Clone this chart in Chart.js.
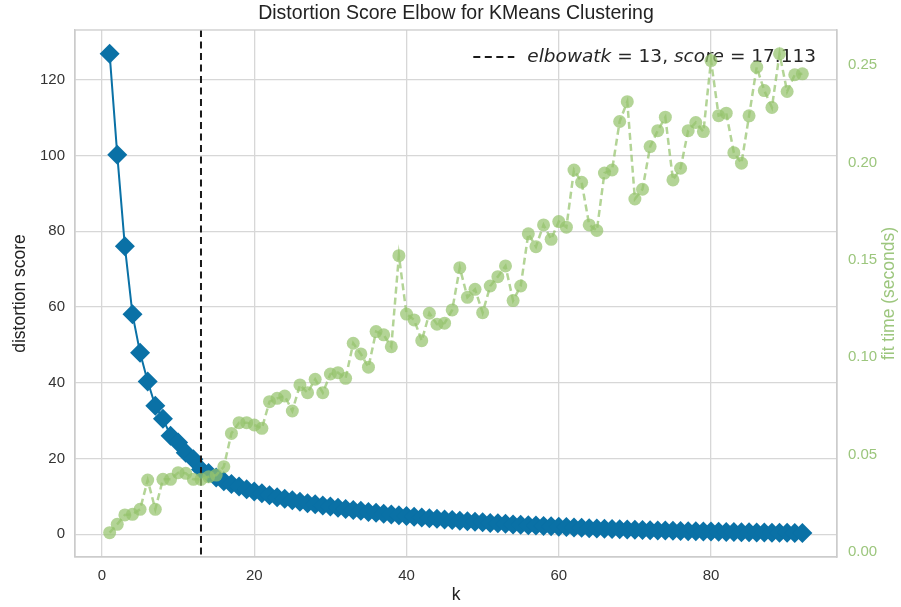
<!DOCTYPE html>
<html lang="en">
<head>
<meta charset="UTF-8">
<title>Distortion Score Elbow for KMeans Clustering</title>
<script src="https://cdn.jsdelivr.net/npm/chart.js"></script>
<style>
  html, body { margin: 0; padding: 0; background: #fff; }
</style>
</head>
<body>
<canvas id="elbowChart" width="901" height="607"></canvas>
<script>
// number of clusters tried
const kValues = [
  1, 2, 3, 4, 5, 6, 7, 8, 9, 10, 11, 12, 13, 14, 15, 16, 17, 18, 19, 20,
  21, 22, 23, 24, 25, 26, 27, 28, 29, 30, 31, 32, 33, 34, 35, 36, 37, 38, 39, 40,
  41, 42, 43, 44, 45, 46, 47, 48, 49, 50, 51, 52, 53, 54, 55, 56, 57, 58, 59, 60,
  61, 62, 63, 64, 65, 66, 67, 68, 69, 70, 71, 72, 73, 74, 75, 76, 77, 78, 79, 80,
  81, 82, 83, 84, 85, 86, 87, 88, 89, 90, 91, 92
];

// sum of squared distances for each k
const distortion = [
  126.8, 100.2, 76.0, 58.1, 47.9, 40.3, 33.9, 30.5, 26.0, 24.2,
  21.5, 19.8, 17.113, 16.2, 15.0, 14.0, 13.3, 12.6, 11.9, 11.3,
  10.8, 10.3, 9.8, 9.4, 9.0, 8.6, 8.2, 7.9, 7.6, 7.3,
  7.0, 6.7, 6.4, 6.2, 5.9, 5.7, 5.4, 5.2, 5.0, 4.8,
  4.6, 4.4, 4.25, 4.1, 3.9, 3.75, 3.6, 3.45, 3.3, 3.15,
  3.0, 2.9, 2.75, 2.6, 2.5, 2.4, 2.3, 2.2, 2.1, 2.0,
  1.9, 1.8, 1.7, 1.62, 1.55, 1.48, 1.4, 1.33, 1.27, 1.2,
  1.14, 1.08, 1.02, 0.97, 0.92, 0.87, 0.82, 0.78, 0.74, 0.7,
  0.66, 0.62, 0.58, 0.55, 0.52, 0.49, 0.46, 0.43, 0.4, 0.37,
  0.34, 0.31
];

// seconds spent fitting each model
const fitTime = [
  0.0098, 0.0141, 0.0189, 0.0192, 0.0218, 0.0368, 0.0218, 0.0372, 0.0372, 0.0406,
  0.0403, 0.0372, 0.0372, 0.0385, 0.0394, 0.0437, 0.0608, 0.0663, 0.0663, 0.0651,
  0.0634, 0.0771, 0.0788, 0.0800, 0.0723, 0.0857, 0.0817, 0.0886, 0.0817, 0.0913,
  0.0920, 0.0891, 0.1071, 0.1016, 0.0948, 0.1131, 0.1114, 0.1053, 0.1521, 0.1221,
  0.1191, 0.1084, 0.1225, 0.1169, 0.1174, 0.1242, 0.1459, 0.1307, 0.1348, 0.1228,
  0.1365, 0.1413, 0.1468, 0.1290, 0.1365, 0.1633, 0.1567, 0.1679, 0.1605, 0.1696,
  0.1667, 0.1961, 0.1898, 0.1679, 0.1650, 0.1945, 0.1961, 0.2210, 0.2312, 0.1812,
  0.1862, 0.2081, 0.2163, 0.2232, 0.1910, 0.1970, 0.2163, 0.2205, 0.2158, 0.2523,
  0.2240, 0.2253, 0.2050, 0.1996, 0.2239, 0.2489, 0.2369, 0.2282, 0.2558, 0.2364,
  0.2450, 0.2455
];

const elbowK = 13;
const elbowScore = 17.113;

const xTicks = [0, 20, 40, 60, 80];
const distortionTicks = [0, 20, 40, 60, 80, 100, 120];
const fitTimeTicks = [0, 0.05, 0.10, 0.15, 0.20, 0.25];

const BLUE = '#0a71a6';
const GREEN = 'rgba(150, 196, 110, 0.72)';
const GREEN_TEXT = '#9cc67d';
const GRID = '#d7d7d7';
const SANS = '"Liberation Sans", Arial, sans-serif';
const TICK_FONT = { family: SANS, size: 15 };
const LABEL_FONT = { family: SANS, size: 17.5 };

const fixedTicks = values => scale => {
  scale.ticks = values.map(v => ({ value: v }));
};

// dashed elbow marker, legend, title and the frame around the plot
const elbowPlugin = {
  id: 'elbowMarker',
  beforeDatasetDraw(chart, args) {
    if (args.index !== 1) return;
    const { ctx, chartArea: area, scales: { x } } = chart;
    const px = x.getPixelForValue(elbowK);
    ctx.save();
    ctx.strokeStyle = '#1a1a1a';
    ctx.lineWidth = 2;
    ctx.setLineDash([7, 4.5]);
    ctx.beginPath();
    ctx.moveTo(px, area.top);
    ctx.lineTo(px, area.bottom);
    ctx.stroke();

    // legend entry, letters in italic like math text
    const size = 18.5;
    const italic = `italic ${size}px "DejaVu Sans", sans-serif`;
    const upright = `${size}px "DejaVu Sans", sans-serif`;
    const pieces = [
      ['elbowatk', italic], [' = ', upright], [String(elbowK), upright], [', ', upright],
      ['score', italic], [' = ', upright], [elbowScore.toFixed(3), upright]
    ];
    let total = 0;
    pieces.forEach(([t, f]) => { ctx.font = f; total += ctx.measureText(t).width; });
    let tx = area.right - 21 - total;
    const ty = area.top + 27;
    ctx.beginPath();
    ctx.moveTo(tx - 54, ty);
    ctx.lineTo(tx - 13, ty);
    ctx.stroke();
    ctx.fillStyle = '#262626';
    ctx.textBaseline = 'middle';
    ctx.textAlign = 'left';
    pieces.forEach(([t, f]) => {
      ctx.font = f;
      ctx.fillText(t, tx, ty);
      tx += ctx.measureText(t).width;
    });
    ctx.restore();
  },
  afterDraw(chart) {
    const { ctx, chartArea: area } = chart;
    ctx.save();
    ctx.strokeStyle = '#cccccc';
    ctx.lineWidth = 1.3;
    ctx.strokeRect(area.left, area.top, area.right - area.left, area.bottom - area.top);

    ctx.textAlign = 'center';
    ctx.textBaseline = 'middle';
    ctx.font = `19.5px ${SANS}`;
    ctx.fillStyle = '#222';
    ctx.fillText('Distortion Score Elbow for KMeans Clustering', (area.left + area.right) / 2, 14);

    // right axis title reads bottom to top
    ctx.translate(889, (area.top + area.bottom) / 2);
    ctx.rotate(-Math.PI / 2);
    ctx.font = `${LABEL_FONT.size}px ${SANS}`;
    ctx.fillStyle = GREEN_TEXT;
    ctx.fillText('fit time (seconds)', 0, 0);
    ctx.restore();
  }
};

const ctx = document.getElementById('elbowChart').getContext('2d');
new Chart(ctx, {
  type: 'line',
  data: {
    datasets: [
      {
        label: 'distortion score',
        data: kValues.map((k, i) => ({ x: k, y: distortion[i] })),
        yAxisID: 'y',
        borderColor: BLUE,
        backgroundColor: BLUE,
        borderWidth: 2,
        pointStyle: 'rectRot',
        pointRadius: 10,
        pointBorderWidth: 0,
        tension: 0,
        order: 2
      },
      {
        label: 'fit time',
        data: kValues.map((k, i) => ({ x: k, y: fitTime[i] })),
        yAxisID: 'y1',
        borderColor: GREEN,
        backgroundColor: GREEN,
        borderWidth: 2.5,
        borderDash: [7, 4],
        pointRadius: 6.5,
        pointBorderWidth: 0,
        tension: 0,
        order: 1
      }
    ]
  },
  options: {
    responsive: false,
    animation: false,
    layout: { padding: { top: 30 } },
    plugins: {
      legend: { display: false },
      tooltip: { enabled: false },
      title: { display: false }
    },
    scales: {
      x: {
        type: 'linear',
        min: -3.55,
        max: 96.55,
        afterBuildTicks: fixedTicks(xTicks),
        afterFit(scale) { scale.height = 50; },
        grid: { color: GRID, lineWidth: 1.3, drawTicks: false },
        border: { color: '#cccccc', width: 1.3 },
        ticks: { color: '#333', padding: 10, font: TICK_FONT },
        title: { display: true, text: 'k', color: '#222', padding: { top: 0, bottom: 1 }, font: LABEL_FONT }
      },
      y: {
        position: 'left',
        min: -6,
        max: 133.1,
        afterBuildTicks: fixedTicks(distortionTicks),
        afterFit(scale) { scale.width = 75; },
        grid: { color: GRID, lineWidth: 1.3, drawTicks: false },
        border: { color: '#cccccc', width: 1.3 },
        ticks: { color: '#333', padding: 10, font: TICK_FONT },
        title: { display: true, text: 'distortion score', color: '#222', padding: { top: 10, bottom: 0 }, font: LABEL_FONT }
      },
      y1: {
        position: 'right',
        min: -0.0027,
        max: 0.268,
        afterBuildTicks: fixedTicks(fitTimeTicks),
        afterFit(scale) { scale.width = 64; },
        grid: { display: false, drawTicks: false },
        border: { color: '#cccccc', width: 1.3 },
        ticks: {
          color: GREEN_TEXT,
          padding: 11,
          font: TICK_FONT,
          callback: v => v.toFixed(2)
        }
      }
    }
  },
  plugins: [elbowPlugin]
});
</script>
</body>
</html>
